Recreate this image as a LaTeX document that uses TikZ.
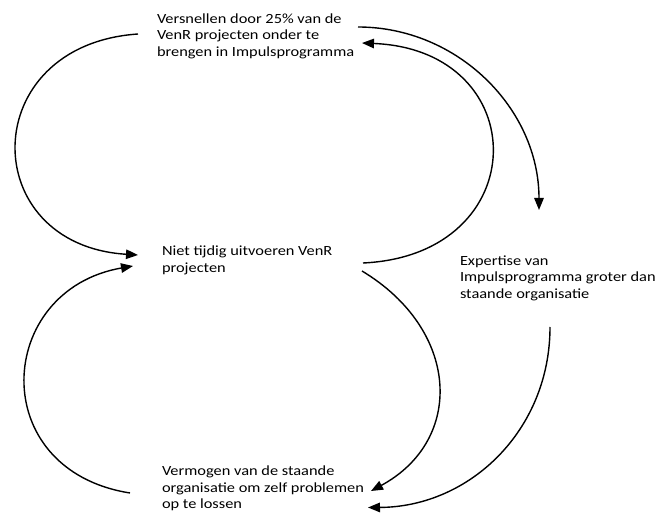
\documentclass[tikz,border=0pt]{standalone}
\usepackage{fontspec}
\setmainfont{Carlito}[FakeStretch=1.17]
\usetikzlibrary{arrows.meta,calc}

\tikzset{
  label text/.style={inner sep=0pt, outer sep=0pt, anchor=base west,
    font=\fontsize{14}{16.3}\selectfont},
  loop arrow/.style={line width=1.4pt, -{Triangle[length=12pt,width=9.5pt]}},
}

\newcommand{\lines}[1]{\begin{tabular}[t]{@{}l@{}}#1\end{tabular}}

\begin{document}
\begin{tikzpicture}[x=1pt,y=-1pt]
  \path[use as bounding box] (0,0) rectangle (672,518);

  % the four factors of the loop
  \node[label text] (t1) at (157,23.5)
    {\lines{Versnellen door 25\% van de\\VenR projecten onder te\\brengen in Impulsprogramma}};
  \node[label text] (t2) at (162,256)
    {\lines{Niet tijdig uitvoeren VenR\\projecten}};
  \node[label text] (t3) at (460,265.7)
    {\lines{Expertise van\\Impulsprogramma groter dan\\staande organisatie}};
  \node[label text] (t4) at (162,475.7)
    {\lines{Vermogen van de staande\\organisatie om zelf problemen\\op te lossen}};

  % left loop: t1 -> t2, t4 -> t2
  \draw[loop arrow] ($(t1.base west)+(-19,10.5)$)
    .. controls (-24,45) and (-24,245) .. ($(t2.base west)+(-24,-1)$);
  \draw[loop arrow] ($(t4.base west)+(-32,17.3)$)
    .. controls (-15,470) and (-5,290) .. ($(t2.base west)+(-29,10)$);

  % right loops
  \draw[loop arrow] ($(t2.base west)+(201,7)$)
    .. controls (535,255) and (535,50) .. ($(t1.base west)+(205,19.5)$);
  \draw[loop arrow] ($(t1.base west)+(201,3.5)$)
    .. controls (458,27) and (539,109) .. ($(t3.base west)+(79,-55.7)$);
  \draw[loop arrow] ($(t2.base west)+(200,15)$)
    .. controls (460,330) and (465,440) .. ($(t4.base west)+(209,15.3)$);
  \draw[loop arrow] ($(t3.base west)+(90,61.3)$)
    .. controls (550,430) and (470,507) .. ($(t4.base west)+(206,31.8)$);
\end{tikzpicture}
\end{document}
